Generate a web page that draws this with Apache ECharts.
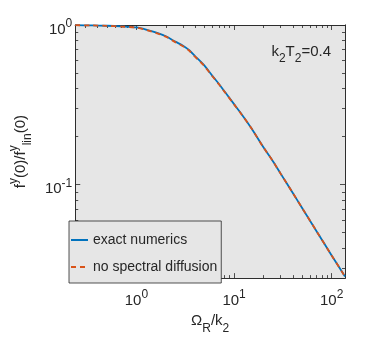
<!DOCTYPE html>
<html>
<head>
<meta charset="utf-8">
<title>ECharts</title>
<script src="https://cdn.jsdelivr.net/npm/echarts@6/dist/echarts.min.js"></script>
<style>html,body{margin:0;padding:0;background:#fff;}</style>
</head>
<body>
<div id="main" style="width:382px;height:340px;"></div>
<script type="text/javascript">
// values (log-log)
var omega = [0.236, 0.35, 0.5, 0.7, 1, 1.3, 1.6, 2, 2.5, 3, 3.5, 4, 4.5, 5, 6, 7, 8, 10, 12, 15, 20, 25, 30, 40, 50, 70, 100, 137];
var exactNumerics = [0.997, 0.994, 0.989, 0.98, 0.965, 0.93, 0.896, 0.85, 0.787, 0.741, 0.692, 0.636, 0.593, 0.554, 0.48, 0.427, 0.383, 0.319, 0.275, 0.226, 0.171, 0.14, 0.117, 0.0885, 0.071, 0.051, 0.0359, 0.0265];
var noSpectralDiffusion = [0.997, 0.994, 0.988, 0.978, 0.962, 0.926, 0.89, 0.845, 0.781, 0.735, 0.687, 0.631, 0.589, 0.55, 0.477, 0.425, 0.381, 0.318, 0.274, 0.226, 0.171, 0.14, 0.117, 0.0885, 0.071, 0.051, 0.0359, 0.0265];

var xMajor = [1, 10, 100];
var xMinor = [0.3, 0.4, 0.5, 0.6, 0.7, 0.8, 0.9, 2, 3, 4, 5, 6, 7, 8, 9, 20, 30, 40, 50, 60, 70, 80, 90];
var yMajor = [0.1, 1];
var yMinor = [0.03, 0.04, 0.05, 0.06, 0.07, 0.08, 0.09, 0.2, 0.3, 0.4, 0.5, 0.6, 0.7, 0.8, 0.9];

var font = "'Liberation Sans', Arial, sans-serif";
var ink = '#262626';

var myChart = echarts.init(document.getElementById('main'));

// "10" with a raised exponent
var powRich = {
  b: {fontSize: 15, lineHeight: 24, verticalAlign: 'bottom', fontFamily: font, color: ink},
  s: {fontSize: 12, padding: [5, 0, 0, 0], verticalAlign: 'top', fontFamily: font, color: ink}
};
function powLabel(v) {
  var e = Math.round(Math.log10(v));
  return '{b|10}{s|' + e + '}';
}

// one axis per tick set; the first carries line + labels
function axis(pos, min, max, ticks, len, labels) {
  return {
    type: 'log', logBase: 10, position: pos, min: min, max: max,
    axisLine: {show: true, onZero: false, lineStyle: {color: ink, width: 0.8}},
    axisTick: {show: true, inside: true, length: len, customValues: ticks, lineStyle: {color: ink, width: 0.8}},
    axisLabel: labels ? {show: true, customValues: ticks, formatter: powLabel, rich: powRich,
                         margin: pos == 'left' ? 3 : 6, color: ink, fontFamily: font}
                      : {show: false},
    splitLine: {show: false},
    minorTick: {show: false}
  };
}

var xMin = 0.236, xMax = 137, yMin = 0.0259, yMax = 1;

var xAxes = [
  axis('bottom', xMin, xMax, xMajor, 5, true),
  axis('bottom', xMin, xMax, xMinor, 3, false),
  axis('top', xMin, xMax, xMajor, 5, false),
  axis('top', xMin, xMax, xMinor, 3, false)
];
xAxes[0].name = '{m|\u03a9}{d|R}{m|/k}{d|2}';
xAxes[0].nameLocation = 'middle';
xAxes[0].nameGap = 30;
xAxes[0].nameTextStyle = {
  rich: {
    m: {fontSize: 15, lineHeight: 22, verticalAlign: 'top', fontFamily: font, color: ink},
    d: {fontSize: 12, verticalAlign: 'bottom', fontFamily: font, color: ink}
  }
};

var yAxes = [
  axis('left', yMin, yMax, yMajor, 5, true),
  axis('left', yMin, yMax, yMinor, 3, false),
  axis('right', yMin, yMax, yMajor, 5, false),
  axis('right', yMin, yMax, yMinor, 3, false)
];
yAxes[0].name = '{m|f}{u|y}{m|(0)/f}{u|y}{d|lin}{m|(0)}';
yAxes[0].nameLocation = 'middle';
yAxes[0].nameGap = 40;
yAxes[0].nameTextStyle = {
  rich: {
    m: {fontSize: 15, lineHeight: 26, fontFamily: font, color: ink},
    u: {fontSize: 12, verticalAlign: 'top', fontFamily: font, color: ink},
    d: {fontSize: 12, verticalAlign: 'bottom', fontFamily: font, color: ink}
  }
};

function pairs(xs, ys) {
  return xs.map(function (x, i) { return [x, ys[i]]; });
}

var option = {
  animation: false,
  grid: {left: 69, right: 37, top: 25, bottom: 57, show: true, backgroundColor: '#e6e6e6', borderWidth: 0},
  xAxis: xAxes,
  yAxis: yAxes,
  legend: {
    data: ['exact numerics', 'no spectral diffusion'],
    orient: 'vertical', left: 69, top: 221,
    itemWidth: 17, itemHeight: 14, itemGap: 13,
    padding: [12, 4, 9, 1],
    itemStyle: {opacity: 0},
    backgroundColor: '#e6e6e6', borderColor: ink, borderWidth: 0.8,
    textStyle: {fontSize: 14, color: ink, fontFamily: font}
  },
  graphic: [{
    type: 'text', right: 51, top: 44,
    style: {
      text: '{m|k}{d|2}{m|T}{d|2}{m|=0.4}',
      rich: {
        m: {fontSize: 15, lineHeight: 21, verticalAlign: 'top', fontFamily: font, fill: ink, color: ink},
        d: {fontSize: 12, verticalAlign: 'bottom', fontFamily: font, fill: ink, color: ink}
      }
    }
  }],
  series: [{
    name: 'exact numerics', type: 'line', smooth: 0.3, symbol: 'none',
    data: pairs(omega, exactNumerics),
    lineStyle: {color: '#0072bd', width: 1.8},
    itemStyle: {color: '#0072bd'},
    z: 2
  }, {
    name: 'no spectral diffusion', type: 'line', smooth: 0.3, symbol: 'none',
    data: pairs(omega, noSpectralDiffusion),
    lineStyle: {color: '#d95319', width: 1.8, type: [5, 4]},
    itemStyle: {color: '#d95319'},
    z: 3
  }]
};

myChart.setOption(option);
</script>
</body>
</html>
